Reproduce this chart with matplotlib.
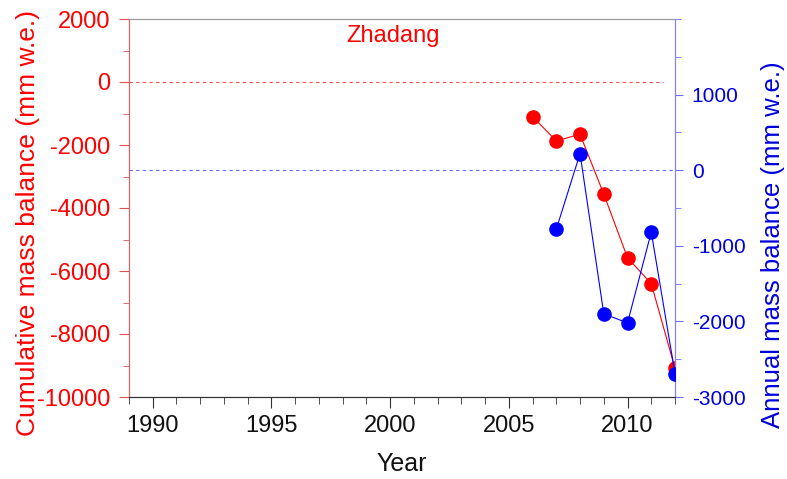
import matplotlib
matplotlib.use("Agg")
import matplotlib.pyplot as plt
from matplotlib.ticker import MultipleLocator

plt.rcParams["font.family"] = ["Liberation Sans", "DejaVu Sans"]
plt.rcParams["axes.unicode_minus"] = False

# data
cum_years = [2006, 2007, 2008, 2009, 2010, 2011, 2012]
cum_balance = [-1100, -1870, -1660, -3560, -5580, -6400, -9090]
ann_years = [2007, 2008, 2009, 2010, 2011, 2012]
ann_balance = [-780, 220, -1900, -2020, -820, -2690]

RED = "#ff0000"
BLUE = "#0000ff"

fig = plt.figure(figsize=(7.87, 4.79), dpi=100)
ax = fig.add_axes([129 / 787, 1 - 397 / 479, 546 / 787, 378 / 479])
ax2 = ax.twinx()

# left axis: cumulative
ax.axhline(0, xmin=0, xmax=(2011.5 - 1989) / 23, color=RED, lw=0.8, ls=(0, (3, 3)), alpha=0.7)
ax.plot(cum_years, cum_balance, color=RED, lw=0.8, marker="o", ms=9.5,
        mfc=RED, mec=RED, zorder=3)
ax.set_xlim(1989, 2012)
ax.set_ylim(-10000, 2000)
ax.xaxis.set_major_locator(MultipleLocator(5))
ax.xaxis.set_minor_locator(MultipleLocator(1))
ax.yaxis.set_major_locator(MultipleLocator(2000))
ax.yaxis.set_minor_locator(MultipleLocator(1000))
ax.tick_params(axis="y", which="both", colors="#e05050", labelcolor=RED, labelsize=17, direction="out")
ax.tick_params(axis="y", which="major", length=7, pad=6.5)
ax.tick_params(axis="y", which="minor", length=4)
ax.tick_params(axis="x", which="both", colors="#333333", labelcolor="#111111", labelsize=17, direction="out")
ax.tick_params(axis="x", which="major", length=8, pad=5)
ax.tick_params(axis="x", which="minor", length=5)
ax.set_xlabel("Year", fontsize=18, color="#111111")
ax.xaxis.set_label_coords(0.5, -0.145)
ax.set_ylabel("Cumulative mass balance (mm w.e.)", fontsize=19, color=RED)
ax.yaxis.set_label_coords(-0.163, 0.46)
ax.text(2000.1, 1270, "Zhadang", color=RED, fontsize=17, ha="center", va="baseline")

# right axis: annual
ax2.axhline(0, color=BLUE, lw=0.8, ls=(0, (3, 3)), alpha=0.6)
ax2.plot(ann_years, ann_balance, color=BLUE, lw=0.8, marker="o", ms=9.5,
         mfc=BLUE, mec=BLUE, zorder=3)
ax2.set_ylim(-3000, 2000)
ax2.set_yticks([-3000, -2000, -1000, 0, 1000])
ax2.yaxis.set_minor_locator(MultipleLocator(500))
ax2.tick_params(axis="y", which="both", colors="#7070ff", labelcolor="#0000dd", labelsize=15, direction="out")
ax2.tick_params(axis="y", which="major", length=6, pad=6)
ax2.tick_params(axis="y", which="minor", length=4)
ax2.set_ylabel("Annual mass balance (mm w.e.)", fontsize=18.5, color="#0000dd")
ax2.yaxis.set_label_coords(1.158, 0.402)

for a in (ax, ax2):
    a.spines["left"].set_color("#e06060")
    a.spines["right"].set_color("#8080ff")
    a.spines["top"].set_color("#999999")
    a.spines["bottom"].set_color("#333333")
    for s in a.spines.values():
        s.set_linewidth(0.8)

fig.savefig("out.png", dpi=100)
